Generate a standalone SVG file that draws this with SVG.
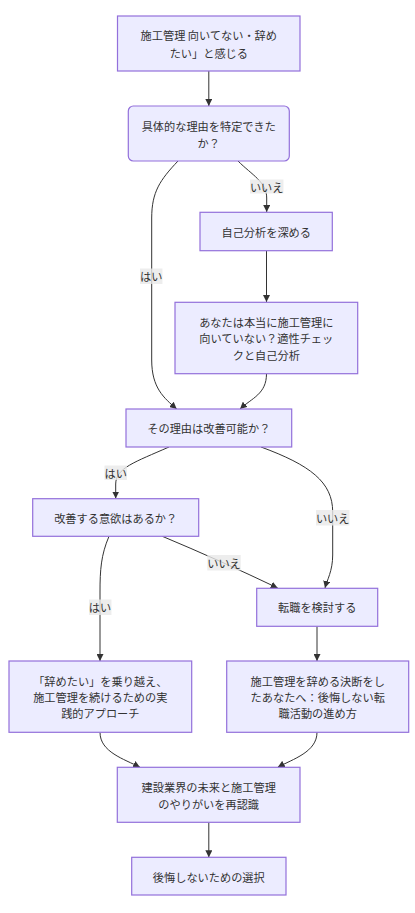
<svg xmlns="http://www.w3.org/2000/svg" width="415" height="913" viewBox="0 0 415 913">
<defs>
<marker id="arr" viewBox="0 0 10 10" refX="10" refY="5" markerUnits="userSpaceOnUse" markerWidth="7" markerHeight="7" orient="auto">
<path d="M0,0 L10,5 L0,10 z" fill="#333"/>
</marker>
<style>
.n{fill:#ECECFF;stroke:#9370DB;stroke-width:1.2}
.t{font-family:"Noto Sans CJK JP","Noto Sans",sans-serif;font-size:11.2px;fill:#333;text-anchor:middle;dominant-baseline:central}
.e{fill:none;stroke:#333;stroke-width:1;marker-end:url(#arr)}
.lb{fill:#e8e8e8;opacity:0.8}
</style>
</defs>
<rect width="415" height="913" fill="#fff"/>
<g id="edges">
<path class="e" d="M208.8,71 L208.8,106"/>
<path class="e" d="M238,161 C252,175 266.7,182 266.7,198 L266.7,212"/>
<path class="e" d="M178,161 C160,180 151.7,192 151.7,218 L151.7,360 C151.7,388 164,398 176.7,409"/>
<path class="e" d="M266.5,250.7 L266.5,302"/>
<path class="e" d="M266.5,373.7 C266.5,394 252,398 240,409"/>
<path class="e" d="M169,447 C135,462 115.7,468 115.7,484 L115.7,498.5"/>
<path class="e" d="M261,447 C310,465 332.7,482 332.7,512 L332.7,555 C332.7,571 327,580 325,588"/>
<path class="e" d="M162.3,536.3 C200,552 240,570 277.7,588"/>
<path class="e" d="M109,536.3 C101,555 100,570 100,592 L100,661"/>
<path class="e" d="M317,626.3 L317,661"/>
<path class="e" d="M100,732.3 C100,752 124,759 140,767.3"/>
<path class="e" d="M317,732.3 C317,752 293,759 277.7,767.3"/>
<path class="e" d="M208.8,822.3 L208.8,857.3"/>
<rect class="lb" x="250" y="179.5" width="33.4" height="14"/>
<text class="t" x="266.7" y="186.5">いいえ</text>
<rect class="lb" x="140" y="268.5" width="22.4" height="15.5"/>
<text class="t" x="151.2" y="276">はい</text>
<rect class="lb" x="104.5" y="465.5" width="22.4" height="14.5"/>
<text class="t" x="115.7" y="472.5">はい</text>
<rect class="lb" x="316" y="510" width="33.4" height="15.5"/>
<text class="t" x="332.7" y="517.5">いいえ</text>
<rect class="lb" x="207.3" y="555" width="33.4" height="15.5"/>
<text class="t" x="224" y="562.5">いいえ</text>
<rect class="lb" x="89" y="599.5" width="22.4" height="15.5"/>
<text class="t" x="100" y="607">はい</text>
</g>
<g id="A">
<rect class="n" x="117.5" y="16" width="182.5" height="55"/>
<text class="t" x="208.8" y="35">施工管理 向いてない・辞め</text>
<text class="t" x="208.8" y="52.5">たい」と感じる</text>
</g>
<g id="B">
<rect class="n" x="128.3" y="106" width="161" height="55" rx="5" ry="5"/>
<text class="t" x="208.8" y="125.5">具体的な理由を特定できた</text>
<text class="t" x="208.8" y="142.5">か？</text>
</g>
<g id="C">
<rect class="n" x="200" y="212.3" width="132.3" height="38.4"/>
<text class="t" x="266.2" y="231.5">自己分析を深める</text>
</g>
<g id="D">
<rect class="n" x="175" y="302.3" width="182.7" height="71.4"/>
<text class="t" x="266.3" y="321.5">あなたは本当に施工管理に</text>
<text class="t" x="266.3" y="338.3">向いていない？適性チェッ</text>
<text class="t" x="266.3" y="355">クと自己分析</text>
</g>
<g id="E">
<rect class="n" x="126" y="409" width="165.7" height="38"/>
<text class="t" x="208.8" y="428">その理由は改善可能か？</text>
</g>
<g id="F">
<rect class="n" x="32.7" y="498.7" width="166" height="37.6"/>
<text class="t" x="115.7" y="517.5">改善する意欲はあるか？</text>
</g>
<g id="G">
<rect class="n" x="256.7" y="588.3" width="121" height="38"/>
<text class="t" x="317.2" y="607.3">転職を検討する</text>
</g>
<g id="H">
<rect class="n" x="9" y="661" width="182.7" height="71.3"/>
<text class="t" x="100.3" y="680.5">「辞めたい」を乗り越え、</text>
<text class="t" x="100.3" y="696.7">施工管理を続けるための実</text>
<text class="t" x="100.3" y="713">践的アプローチ</text>
</g>
<g id="I">
<rect class="n" x="226.7" y="661" width="182" height="71.3"/>
<text class="t" x="317.7" y="680.5">施工管理を辞める決断をし</text>
<text class="t" x="317.7" y="696.7">たあなたへ：後悔しない転</text>
<text class="t" x="317.7" y="713">職活動の進め方</text>
</g>
<g id="J">
<rect class="n" x="117.3" y="767.3" width="182.7" height="55"/>
<text class="t" x="208.7" y="786.5">建設業界の未来と施工管理</text>
<text class="t" x="208.7" y="803.5">のやりがいを再認識</text>
</g>
<g id="K">
<rect class="n" x="131.7" y="857.3" width="154.3" height="37.7"/>
<text class="t" x="208.8" y="876.5">後悔しないための選択</text>
</g>
</svg>
